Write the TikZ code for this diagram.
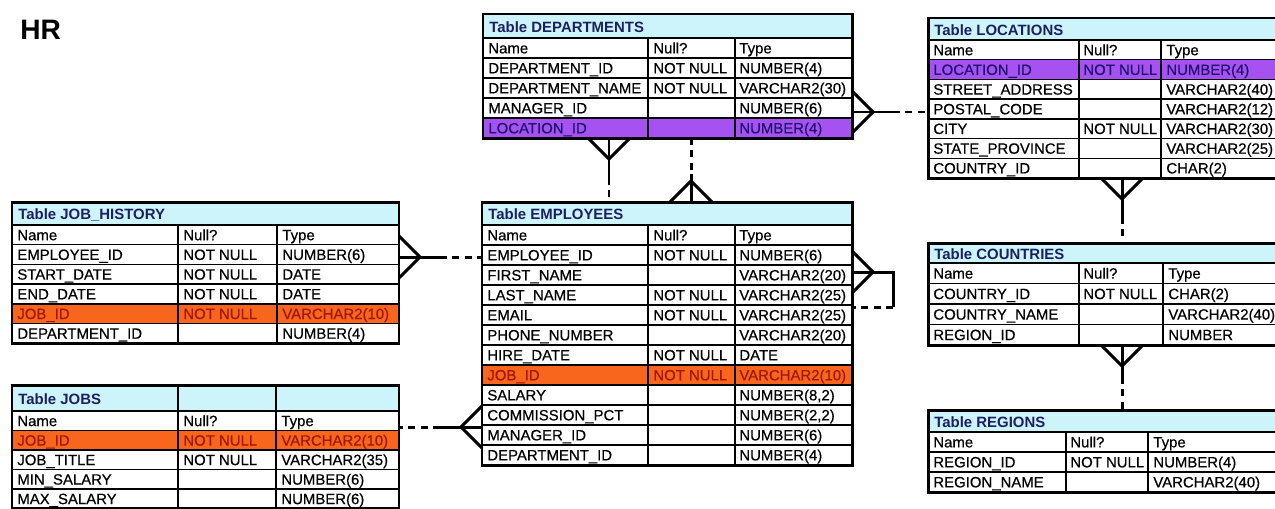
\documentclass[tikz,border=0pt]{standalone}
\usepackage{fontspec}
\setmainfont{Liberation Sans}
\newfontfamily\cellfont{Liberation Sans}[FakeBold=0.5]

\definecolor{headcyan}{HTML}{CCF4FA}
\definecolor{keyviolet}{HTML}{A552F0}
\definecolor{keynavy}{HTML}{1E1470}
\definecolor{joborange}{HTML}{F8661E}
\definecolor{jobred}{HTML}{A01808}
\definecolor{titlenavy}{HTML}{1C2060}

\tikzset{
  tableframe/.style={line width=1.7pt},
  gridline/.style={line width=0.8pt},
  celltext/.style={anchor=west, inner sep=0pt, text height=6.1pt, text depth=0pt, font=\cellfont\fontsize{8.5}{10}\selectfont},
  rowtext/.style={black},
  violettext/.style={keynavy},
  orangetext/.style={jobred},
  tabletitle/.style={celltext, titlenavy, font=\fontsize{8.5}{10}\selectfont\bfseries},
  relline/.style={line width=1.7pt},
  reldash/.style={relline, dash pattern=on 4pt off 3pt},
  crowfoot/.pic={\draw[relline] (0,-21) -- (21,0) -- (0,21);}
}

\begin{document}
\begin{tikzpicture}[x=0.02cm, y=-0.02cm]

\path[use as bounding box] (0,0) rectangle (1275,508);
\clip (0,0) rectangle (1275,508);
\fill[white] (0,0) rectangle (1275,508);

\node[anchor=base west, inner sep=0pt, font=\fontsize{16}{18}\selectfont\bfseries] (hr) at (20,39) {HR};

% table DEPARTMENTS
\fill[headcyan] (483,14) rectangle (852,38);
\fill[keyviolet] (483,118) rectangle (852,138);
\foreach \k in {0,...,4}
    \draw[gridline] (483,38+20*\k) -- (852,38+20*\k);
\draw[gridline] (648,38) -- (648,138) (735,38) -- (735,138);
\draw[tableframe] (483,14) rectangle (852,138);
\node[tabletitle] (dept) at (489,27) {Table DEPARTMENTS};
\foreach \n/\u/\t/\s [count=\i] in {Name/Null?/Type/rowtext,
    DEPARTMENT\_ID/NOT NULL/NUMBER(4)/rowtext,
    DEPARTMENT\_NAME/NOT NULL/VARCHAR2(30)/rowtext,
    MANAGER\_ID//NUMBER(6)/rowtext,
    LOCATION\_ID//NUMBER(4)/violettext}
{
    \node[celltext,\s] (dept-n\i) at (488,28+20*\i) {\n};
    \node[celltext,\s] (dept-u\i) at (653,28+20*\i) {\u};
    \node[celltext,\s] (dept-t\i) at (739,28+20*\i) {\t};
}
\coordinate (dept-out) at (852,112);
\coordinate (dept-down) at (609,138);
\coordinate (dept-down2) at (691,138);

% table LOCATIONS
\fill[headcyan] (928,18) rectangle (1290,40);
\fill[keyviolet] (928,59.7) rectangle (1290,79.4);
\foreach \k in {0,...,6}
    \draw[gridline] (928,40+19.7*\k) -- (1290,40+19.7*\k);
\draw[gridline] (1079,40) -- (1079,178) (1161,40) -- (1161,178);
\draw[tableframe] (928,18) rectangle (1290,178);
\node[tabletitle] (loc) at (934,30) {Table LOCATIONS};
\foreach \n/\u/\t/\s [count=\i] in {Name/Null?/Type/rowtext,
    LOCATION\_ID/NOT NULL/NUMBER(4)/violettext,
    STREET\_ADDRESS//VARCHAR2(40)/rowtext,
    POSTAL\_CODE//VARCHAR2(12)/rowtext,
    CITY/NOT NULL/VARCHAR2(30)/rowtext,
    STATE\_PROVINCE//VARCHAR2(25)/rowtext,
    COUNTRY\_ID//CHAR(2)/rowtext}
{
    \node[celltext,\s] (loc-n\i) at (933,30.15+19.7*\i) {\n};
    \node[celltext,\s] (loc-u\i) at (1083,30.15+19.7*\i) {\u};
    \node[celltext,\s] (loc-t\i) at (1166,30.15+19.7*\i) {\t};
}
\coordinate (loc-in) at (928,112);
\coordinate (loc-down) at (1122,178);

% table JOB_HISTORY
\fill[headcyan] (12,202) rectangle (399,225);
\fill[joborange] (12,303.8) rectangle (399,323.5);
\foreach \k in {0,...,5}
    \draw[gridline] (12,225+19.7*\k) -- (399,225+19.7*\k);
\draw[gridline] (178,225) -- (178,343.2) (277,225) -- (277,343.2);
\draw[tableframe] (12,202) rectangle (399,343.2);
\node[tabletitle] (jobhist) at (18,214) {Table JOB\_HISTORY};
\foreach \n/\u/\t/\s [count=\i] in {Name/Null?/Type/rowtext,
    EMPLOYEE\_ID/NOT NULL/NUMBER(6)/rowtext,
    START\_DATE/NOT NULL/DATE/rowtext,
    END\_DATE/NOT NULL/DATE/rowtext,
    JOB\_ID/NOT NULL/VARCHAR2(10)/orangetext,
    DEPARTMENT\_ID//NUMBER(4)/rowtext}
{
    \node[celltext,\s] (jh-n\i) at (17,215.15+19.7*\i) {\n};
    \node[celltext,\s] (jh-u\i) at (183,215.15+19.7*\i) {\u};
    \node[celltext,\s] (jh-t\i) at (282,215.15+19.7*\i) {\t};
}
\coordinate (jh-out) at (399,257);

% table JOBS
\fill[headcyan] (12,385) rectangle (399,411);
\fill[joborange] (12,430.5) rectangle (399,450);
\foreach \k in {0,...,4}
    \draw[gridline] (12,411+19.5*\k) -- (399,411+19.5*\k);
\draw[gridline] (178,385) -- (178,508.5) (276,385) -- (276,508.5);
\draw[tableframe] (12,385) rectangle (399,508.5);
\node[tabletitle] (jobs) at (18,399) {Table JOBS};
\foreach \n/\u/\t/\s [count=\i] in {Name/Null?/Type/rowtext,
    JOB\_ID/NOT NULL/VARCHAR2(10)/orangetext,
    JOB\_TITLE/NOT NULL/VARCHAR2(35)/rowtext,
    MIN\_SALARY//NUMBER(6)/rowtext,
    MAX\_SALARY//NUMBER(6)/rowtext}
{
    \node[celltext,\s] (jobs-n\i) at (17,401.25+19.5*\i) {\n};
    \node[celltext,\s] (jobs-u\i) at (183,401.25+19.5*\i) {\u};
    \node[celltext,\s] (jobs-t\i) at (281,401.25+19.5*\i) {\t};
}
\coordinate (jobs-out) at (399,427);

% table EMPLOYEES
\fill[headcyan] (482,202) rectangle (852,225);
\fill[joborange] (482,365) rectangle (852,385);
\foreach \k in {0,...,11}
    \draw[gridline] (482,225+20*\k) -- (852,225+20*\k);
\draw[gridline] (648,225) -- (648,465) (735,225) -- (735,465);
\draw[tableframe] (482,202) rectangle (852,465);
\node[tabletitle] (emp) at (488,214) {Table EMPLOYEES};
\foreach \n/\u/\t/\s [count=\i] in {Name/Null?/Type/rowtext,
    EMPLOYEE\_ID/NOT NULL/NUMBER(6)/rowtext,
    FIRST\_NAME//VARCHAR2(20)/rowtext,
    LAST\_NAME/NOT NULL/VARCHAR2(25)/rowtext,
    EMAIL/NOT NULL/VARCHAR2(25)/rowtext,
    PHONE\_NUMBER//VARCHAR2(20)/rowtext,
    HIRE\_DATE/NOT NULL/DATE/rowtext,
    JOB\_ID/NOT NULL/VARCHAR2(10)/orangetext,
    SALARY//{NUMBER(8,2)}/rowtext,
    COMMISSION\_PCT//{NUMBER(2,2)}/rowtext,
    MANAGER\_ID//NUMBER(6)/rowtext,
    DEPARTMENT\_ID//NUMBER(4)/rowtext}
{
    \node[celltext,\s] (emp-n\i) at (487,215+20*\i) {\n};
    \node[celltext,\s] (emp-u\i) at (653,215+20*\i) {\u};
    \node[celltext,\s] (emp-t\i) at (739,215+20*\i) {\t};
}
\coordinate (emp-up) at (609,202);
\coordinate (emp-up2) at (691,202);
\coordinate (emp-self) at (852,272);
\coordinate (emp-back) at (852,307);
\coordinate (emp-in) at (482,257);
\coordinate (emp-in2) at (482,427);

% table COUNTRIES
\fill[headcyan] (928,243) rectangle (1290,263);
\foreach \k in {0,...,3}
    \draw[gridline] (928,263+20.5*\k) -- (1290,263+20.5*\k);
\draw[gridline] (1079,263) -- (1079,345) (1163,263) -- (1163,345);
\draw[tableframe] (928,243) rectangle (1290,345);
\node[tabletitle] (ctry) at (934,254) {Table COUNTRIES};
\foreach \n/\u/\t/\s [count=\i] in {Name/Null?/Type/rowtext,
    COUNTRY\_ID/NOT NULL/CHAR(2)/rowtext,
    COUNTRY\_NAME//VARCHAR2(40)/rowtext,
    REGION\_ID//NUMBER/rowtext}
{
    \node[celltext,\s] (ctry-n\i) at (933,252.75+20.5*\i) {\n};
    \node[celltext,\s] (ctry-u\i) at (1083,252.75+20.5*\i) {\u};
    \node[celltext,\s] (ctry-t\i) at (1168,252.75+20.5*\i) {\t};
}
\coordinate (ctry-up) at (1122,243);
\coordinate (ctry-down) at (1122,345);

% table REGIONS
\fill[headcyan] (928,410) rectangle (1290,432);
\foreach \k in {0,...,2}
    \draw[gridline] (928,432+20*\k) -- (1290,432+20*\k);
\draw[gridline] (1066,432) -- (1066,492) (1148,432) -- (1148,492);
\draw[tableframe] (928,410) rectangle (1290,492);
\node[tabletitle] (reg) at (934,422) {Table REGIONS};
\foreach \n/\u/\t/\s [count=\i] in {Name/Null?/Type/rowtext,
    REGION\_ID/NOT NULL/NUMBER(4)/rowtext,
    REGION\_NAME//VARCHAR2(40)/rowtext}
{
    \node[celltext,\s] (reg-n\i) at (933,422+20*\i) {\n};
    \node[celltext,\s] (reg-u\i) at (1070,422+20*\i) {\u};
    \node[celltext,\s] (reg-t\i) at (1153,422+20*\i) {\t};
}
\coordinate (reg-up) at (1122,410);

% draw relationships
\pic at (dept-out) {crowfoot};
\draw[relline] (dept-out) -- ++(41,0) coordinate (dept-mid);
\draw[reldash] (dept-mid) -- (loc-in);

\pic[rotate=-90] at (dept-down) {crowfoot};
\draw[relline] (dept-down) -- ++(0,40) coordinate (dept-mid2);
\draw[reldash] (dept-mid2) -- (emp-up);

\pic[rotate=90] at (emp-up2) {crowfoot};
\draw[reldash] (dept-down2) -- ++(0,36) coordinate (dept-mid3);
\draw[relline] (dept-mid3) -- (emp-up2);

\pic at (emp-self) {crowfoot};
\draw[relline] (emp-self) -- ++(41,0) coordinate (self-a) -- (self-a |- emp-back) coordinate (self-b);
\draw[reldash] (self-b) -- (emp-back);

\pic at (jh-out) {crowfoot};
\draw[relline] (jh-out) -- ++(41,0) coordinate (jh-mid);
\draw[reldash] (jh-mid) -- (emp-in);

\pic[rotate=180] at (emp-in2) {crowfoot};
\draw[relline] (emp-in2) -- ++(-42,0) coordinate (jobs-mid);
\draw[reldash] (jobs-mid) -- (jobs-out);

\pic[rotate=-90] at (loc-down) {crowfoot};
\draw[relline] (loc-down) -- ++(0,39) coordinate (loc-mid);
\draw[reldash] (loc-mid) -- (ctry-up);

\pic[rotate=-90] at (ctry-down) {crowfoot};
\draw[relline] (ctry-down) -- ++(0,32) coordinate (ctry-mid);
\draw[reldash] (ctry-mid) -- (reg-up);

\end{tikzpicture}
\end{document}
